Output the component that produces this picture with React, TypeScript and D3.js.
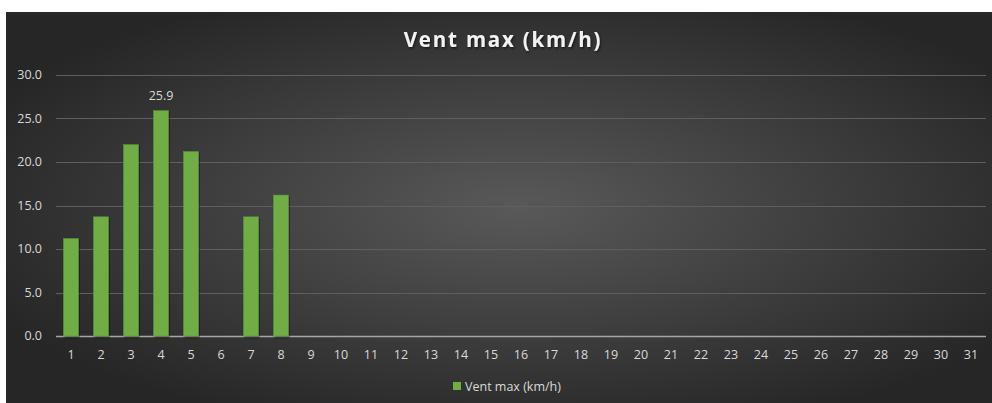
import React from "react";
import * as d3 from "d3";

// Daily max wind (km/h), days 1..31; null where nothing is recorded
const days: string[] = Array.from({ length: 31 }, (_, i) => String(i + 1));
const windMax: (number | null)[] = [
  11.2, 13.7, 22.0, 25.9, 21.2, null, 13.7, 16.2,
  null, null, null, null, null, null, null, null, null, null, null, null,
  null, null, null, null, null, null, null, null, null, null, null,
];
const yTicks: number[] = [0, 5, 10, 15, 20, 25, 30];
const labelledDays: string[] = ["4"];

const W = 992;
const H = 403;
const margin = { top: 75, right: 6, bottom: 67, left: 56 };
const font = "'Open Sans', 'DejaVu Sans', sans-serif";

const App: React.FC = () => {
  const x = d3
    .scaleBand<string>()
    .domain(days)
    .range([margin.left, W - margin.right])
    .paddingInner(0.5)
    .paddingOuter(0.25);

  const y = d3
    .scaleLinear()
    .domain([0, 30])
    .range([H - margin.bottom, margin.top]);

  const data = days.map((d, i) => ({ day: d, value: windMax[i] }));

  return (
    <svg
      width={W}
      height={H}
      style={{ position: "absolute", left: 0, top: 0, display: "block" }}
    >
      <defs>
        <radialGradient id="bg" cx="52%" cy="50%" r="60%" fx="52%" fy="50%">
          <stop offset="0%" stopColor="#595959" />
          <stop offset="100%" stopColor="#262626" />
        </radialGradient>
        <filter id="shadow" x="-10%" y="-10%" width="120%" height="130%">
          <feDropShadow dx="1" dy="1.5" stdDeviation="1" floodColor="#000" floodOpacity="0.6" />
        </filter>
      </defs>

      <rect x={0} y={0} width={W} height={H} fill="#ffffff" />
      <rect x={6} y={12} width={W - 6} height={H - 12} fill="url(#bg)" />

      {/* Title */}
      <text
        x={503}
        y={47}
        textAnchor="middle"
        fill="#f2f2f2"
        fontFamily={font}
        fontWeight="bold"
        fontSize={20.5}
        letterSpacing={1.8}
        filter="url(#shadow)"
      >
        Vent max (km/h)
      </text>

      {/* Gridlines */}
      {yTicks.map((t) => (
        <line
          key={t}
          x1={margin.left}
          x2={W - margin.right}
          y1={Math.round(y(t)) + 0.5}
          y2={Math.round(y(t)) + 0.5}
          stroke={t === 0 ? "#a6a6a6" : "#5f5f5f"}
          strokeWidth={t === 0 ? 1.5 : 1}
        />
      ))}

      {/* Y tick labels */}
      {yTicks.map((t) => (
        <text
          key={t}
          x={42}
          y={y(t)}
          dy="0.35em"
          textAnchor="end"
          fill="#d9d9d9"
          fontFamily={font}
          fontSize={12.5}
        >
          {t.toFixed(1)}
        </text>
      ))}

      {/* Bars */}
      {data
        .filter((d) => d.value !== null)
        .map((d) => (
          <rect
            key={d.day}
            x={x(d.day)}
            y={y(d.value as number)}
            width={x.bandwidth()}
            height={y(0) - y(d.value as number)}
            fill="#70ad47"
            stroke="#5e9a38"
            strokeWidth={0.5}
            filter="url(#shadow)"
          />
        ))}

      {/* Data label */}
      {data
        .filter((d) => labelledDays.includes(d.day) && d.value !== null)
        .map((d) => (
          <text
            key={d.day}
            x={(x(d.day) as number) + x.bandwidth() / 2}
            y={y(d.value as number) - 15}
            dy="0.35em"
            textAnchor="middle"
            fill="#d9d9d9"
            fontFamily={font}
            fontSize={12.5}
          >
            {(d.value as number).toFixed(1)}
          </text>
        ))}

      {/* X tick labels */}
      {days.map((d) => (
        <text
          key={d}
          x={(x(d) as number) + x.bandwidth() / 2}
          y={355}
          dy="0.35em"
          textAnchor="middle"
          fill="#d9d9d9"
          fontFamily={font}
          fontSize={12.5}
        >
          {d}
        </text>
      ))}

      {/* Legend */}
      <rect x={453} y={382} width={8} height={8} fill="#70ad47" />
      <text
        x={465}
        y={386.5}
        dy="0.35em"
        fill="#d9d9d9"
        fontFamily={font}
        fontSize={12.5}
      >
        Vent max (km/h)
      </text>
    </svg>
  );
};

export default App;
